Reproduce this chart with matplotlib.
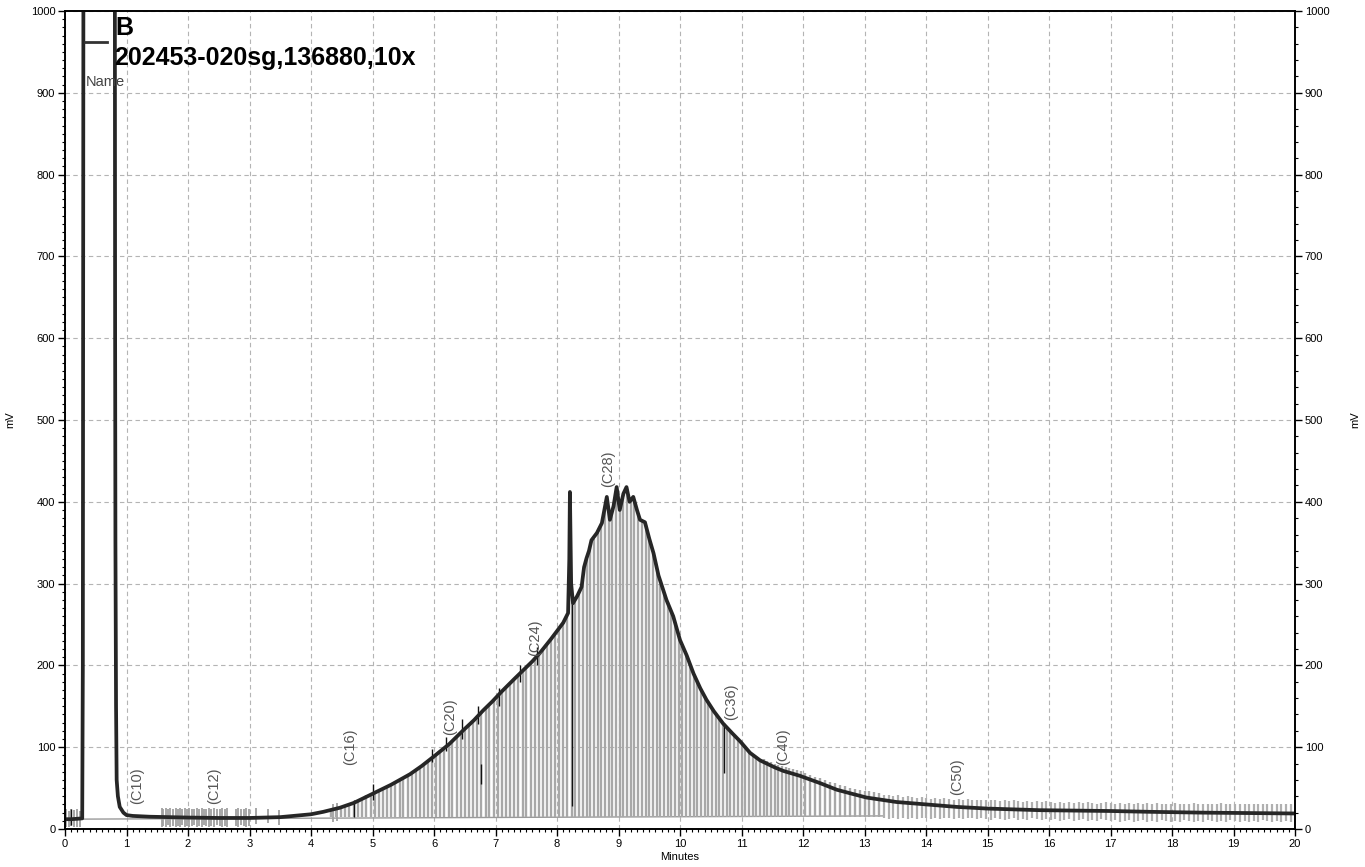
import numpy as np
import matplotlib
matplotlib.use('Agg')
import matplotlib.pyplot as plt
from matplotlib.ticker import MultipleLocator

plt.rcParams['font.family'] = ['Liberation Sans', 'DejaVu Sans']

# ========= DATA =========

# detector trace, minutes / mV
trace_t = [0.00, 0.10, 0.20, 0.28, 0.29, 0.30, 0.81, 0.815, 0.82, 0.83, 0.84, 0.86, 0.89,
           0.95, 1.00, 1.10, 1.38, 2.00, 2.50, 3.00, 3.50, 4.00, 4.20, 4.47, 4.70, 5.00,
           5.30, 5.61, 5.80, 6.02, 6.25, 6.48, 6.65, 6.80, 6.95, 7.10, 7.30, 7.45, 7.60,
           7.72, 7.90, 8.10, 8.18, 8.20, 8.21, 8.23, 8.26, 8.33, 8.40, 8.44, 8.48, 8.52,
           8.56, 8.65, 8.73, 8.81, 8.86, 8.92, 8.97, 9.02, 9.08, 9.13, 9.18, 9.24, 9.30,
           9.35, 9.43, 9.50, 9.57, 9.65, 9.78, 9.89, 10.00, 10.11, 10.22, 10.33, 10.43,
           10.55, 10.70, 10.85, 10.98, 11.14, 11.30, 11.41, 11.55, 11.68, 11.95, 12.28,
           12.55, 12.80, 13.03, 13.52, 14.01, 14.50, 14.99, 15.85, 17.00, 17.64, 18.50,
           19.97, 20.00]
trace_mv = [12, 12, 12.5, 13, 200, 1100, 1100, 600, 350, 150, 60, 40, 27,
            20, 17, 16, 15, 14, 13.5, 13.5, 14.5, 18, 21, 26, 32, 43,
            54, 67, 77, 90, 104, 121, 133, 145, 156, 168, 183, 194, 205,
            215, 232, 252, 264, 330, 412, 300, 276, 285, 296, 320, 331, 340,
            353, 362, 374, 406, 378, 395, 418, 390, 410, 418, 400, 406, 390,
            378, 375, 355, 337, 310, 280, 260, 231, 212, 190, 172, 158,
            144, 129, 117, 107, 93, 84, 80, 75, 71, 65, 56,
            48, 43, 38.5, 33, 30, 27, 25, 23, 22, 21, 20,
            19, 19]

# integration baseline
base_t = [0.0, 13.3]
base_mv = [12, 16]

# peak slices under the hump: time, top (mV)
hump_t = [4.32, 4.40, 4.48, 4.55, 4.62, 4.70, 4.76, 4.83, 4.90, 4.97, 5.04, 5.10, 5.17, 5.24,
          5.30, 5.37, 5.44, 5.50, 5.57, 5.64, 5.70, 5.77, 5.84, 5.90, 5.97, 6.04, 6.10, 6.17,
          6.24, 6.30, 6.37, 6.44, 6.50, 6.57, 6.64, 6.70, 6.77, 6.84, 6.90, 6.97, 7.04, 7.10,
          7.17, 7.24, 7.30, 7.37, 7.44, 7.50, 7.57, 7.64, 7.70, 7.77, 7.84, 7.90, 7.97, 8.04,
          8.10, 8.16, 8.24, 8.30, 8.36, 8.42, 8.48, 8.54, 8.60, 8.66, 8.72, 8.78, 8.84, 8.90,
          8.96, 9.02, 9.08, 9.14, 9.20, 9.26, 9.32, 9.38, 9.44, 9.50, 9.56, 9.62, 9.68, 9.74,
          9.80, 9.86, 9.92, 9.98, 10.04, 10.10, 10.16, 10.22, 10.28, 10.34, 10.40, 10.46,
          10.52, 10.58, 10.64, 10.70, 10.76, 10.82, 10.88, 10.94, 11.00, 11.06, 11.12, 11.18,
          11.24, 11.30, 11.36, 11.42, 11.48, 11.54, 11.60, 11.66, 11.72, 11.78, 11.84, 11.90,
          11.96, 12.04, 12.12, 12.20, 12.28, 12.36, 12.44, 12.52, 12.60, 12.68, 12.76, 12.84,
          12.92, 13.00, 13.08, 13.16, 13.24]
hump_top = [22, 24, 27, 28, 30, 33, 36, 38, 41, 43, 45, 48, 50, 52,
            55, 58, 61, 63, 66, 69, 72, 76, 80, 83, 87, 91, 95, 99,
            104, 108, 113, 118, 122, 127, 132, 137, 143, 148, 152, 158, 163, 168,
            173, 178, 183, 188, 193, 198, 203, 208, 213, 220, 226, 232, 238, 246,
            252, 260, 280, 280, 290, 305, 330, 345, 355, 362, 372, 390, 385, 392,
            410, 392, 405, 412, 402, 398, 385, 377, 372, 355, 338, 318, 300, 288,
            277, 266, 253, 235, 224, 213, 202, 190, 180, 171, 162, 155,
            148, 141, 135, 129, 124, 119, 114, 110, 106, 100, 95, 91,
            88, 86, 85, 83, 82, 80, 78, 77, 76, 75, 73, 72,
            71, 68, 66, 64, 62, 60, 58, 56, 54, 52, 50, 49,
            48, 47, 46, 45, 44]

# noise slices on the flat parts: time, bottom, top (mV)
early_t = [0.02, 0.06, 0.10, 0.14, 0.19, 0.24, 1.57, 1.60, 1.64, 1.68, 1.71, 1.75, 1.80,
           1.84, 1.87, 1.91, 1.95, 1.98, 2.02, 2.06, 2.10, 2.14, 2.18, 2.22, 2.26, 2.30,
           2.34, 2.38, 2.43, 2.47, 2.52, 2.56, 2.60, 2.64, 2.78, 2.82, 2.86, 2.91, 2.95,
           2.99, 3.10, 3.30, 3.48, 4.35, 4.42]
early_bot = [2, 2, 4, 2, 3, 2, 3, 4, 3, 5, 3, 4, 3,
             4, 3, 5, 3, 4, 3, 4, 5, 3, 4, 3, 5, 4,
             3, 4, 3, 5, 4, 3, 4, 3, 4, 3, 5, 4, 3,
             4, 6, 7, 5, 9, 10]
early_top = [24, 22, 25, 23, 24, 22, 26, 25, 26, 24, 26, 25, 26,
             25, 26, 24, 26, 25, 26, 25, 24, 26, 25, 26, 24, 25,
             26, 25, 26, 24, 25, 26, 25, 26, 25, 26, 24, 25, 26,
             25, 26, 24, 23, 30, 32]

late_t = [13.32, 13.40, 13.47, 13.55, 13.62, 13.70, 13.78, 13.85, 13.93, 14.00, 14.08, 14.15,
          14.23, 14.30, 14.38, 14.45, 14.53, 14.60, 14.68, 14.75, 14.83, 14.90, 14.98, 15.05,
          15.13, 15.20, 15.28, 15.35, 15.43, 15.50, 15.58, 15.65, 15.73, 15.80, 15.88, 15.95,
          16.03, 16.10, 16.18, 16.25, 16.33, 16.40, 16.48, 16.55, 16.63, 16.70, 16.78, 16.85,
          16.93, 17.00, 17.08, 17.15, 17.23, 17.30, 17.38, 17.45, 17.53, 17.60, 17.68, 17.75,
          17.83, 17.90, 17.98, 18.05, 18.13, 18.20, 18.28, 18.35, 18.43, 18.50, 18.58, 18.65,
          18.73, 18.80, 18.88, 18.95, 19.03, 19.10, 19.18, 19.25, 19.33, 19.40, 19.48, 19.55,
          19.63, 19.70, 19.78, 19.85, 19.93]
late_bot = [14, 12, 13, 12, 14, 12, 13, 12, 14, 13, 12, 13,
            12, 14, 13, 12, 13, 12, 14, 13, 12, 13, 12, 11,
            13, 12, 11, 12, 13, 11, 12, 11, 13, 12, 11, 12,
            11, 12, 10, 11, 12, 10, 11, 12, 10, 11, 10, 12,
            11, 10, 11, 9, 10, 11, 9, 10, 11, 9, 10, 9,
            11, 10, 9, 10, 9, 11, 10, 9, 10, 9, 11, 10,
            9, 10, 9, 11, 10, 9, 10, 9, 10, 9, 11, 10,
            9, 10, 9, 10, 9]
late_top = [42, 41, 40, 41, 39, 40, 39, 38, 39, 38, 37, 38,
            37, 38, 37, 36, 37, 36, 37, 36, 35, 36, 35, 36,
            35, 34, 35, 34, 35, 34, 33, 34, 33, 34, 33, 34,
            33, 32, 33, 32, 33, 32, 33, 32, 33, 32, 31, 32,
            33, 32, 31, 32, 31, 32, 31, 32, 31, 32, 31, 32,
            31, 30, 31, 32, 31, 30, 31, 32, 31, 30, 31, 30,
            31, 32, 31, 30, 31, 30, 31, 30, 31, 30, 31, 30,
            31, 30, 31, 30, 31]

# darker slice markers: time, bottom, top (mV)
dark_t = [0.10, 4.70, 5.00, 5.97, 6.20, 6.46, 6.72, 6.77, 7.05, 7.40, 7.67, 8.25, 10.72]
dark_bot = [5, 15, 35, 82, 95, 110, 128, 55, 150, 180, 200, 28, 68]
dark_top = [25, 36, 55, 98, 112, 135, 150, 80, 172, 200, 222, 275, 129]

# carbon number markers
carbon_labels = ['(C10)', '(C12)', '(C16)', '(C20)', '(C24)', '(C28)', '(C36)', '(C40)', '(C50)']
carbon_t = [1.17, 2.42, 4.63, 6.26, 7.64, 8.83, 10.83, 11.67, 14.50]
carbon_mv = [30, 30, 78, 115, 212, 418, 133, 78, 41]

# ========= PLOT =========

W, H = 1365, 867
fig = plt.figure(figsize=(W / 100, H / 100), dpi=100)
ax = fig.add_axes([65 / W, 38 / H, 1230 / W, 818 / H])

ax.set_xlim(0, 20)
ax.set_ylim(0, 1000)

ax.grid(True, which='major', linestyle=(0, (4, 3)), color='#b4b4b4', linewidth=0.8)
ax.set_axisbelow(True)

ax.plot(base_t, base_mv, color='#9a9a9a', linewidth=1.0, zorder=2)
ax.vlines(early_t, early_bot, early_top, colors='#a0a0a0', linewidth=1.3, zorder=2)
ax.vlines(hump_t, 15, hump_top, colors='#a8a8a8', linewidth=1.7, zorder=2)
ax.vlines(late_t, late_bot, late_top, colors='#b0b0b0', linewidth=1.6, zorder=2)
ax.vlines(dark_t, dark_bot, dark_top, colors='#111111', linewidth=1.0, zorder=3)

ax.plot(trace_t, trace_mv, color='#262626', linewidth=2.7, zorder=4)

for lab, t, mv in zip(carbon_labels, carbon_t, carbon_mv):
    ax.text(t, mv, lab, rotation=90, ha='center', va='bottom', fontsize=10.5,
            color='#555555', zorder=5)

# axes styling
ax.xaxis.set_major_locator(MultipleLocator(1))
ax.xaxis.set_minor_locator(MultipleLocator(0.1))
ax.yaxis.set_major_locator(MultipleLocator(100))
ax.yaxis.set_minor_locator(MultipleLocator(10))
ax.tick_params(which='major', direction='out', length=5, width=1, labelsize=8, pad=2)
ax.tick_params(which='minor', direction='out', length=2.5, width=0.8)
for s in ax.spines.values():
    s.set_linewidth(1.2)
ax.set_xlabel('Minutes', fontsize=8, labelpad=2)
ax.set_ylabel('mV', fontsize=8)
ax.yaxis.set_label_coords(-50 / 1230, 0.5)

ax2 = ax.twinx()
ax2.set_ylim(0, 1000)
ax2.yaxis.set_major_locator(MultipleLocator(100))
ax2.yaxis.set_minor_locator(MultipleLocator(20))
ax2.tick_params(which='major', direction='out', length=5, width=1, labelsize=8, pad=2)
ax2.tick_params(which='minor', direction='out', length=2.5, width=0.8)
ax2.set_ylabel('mV', fontsize=8)
ax2.yaxis.set_label_coords(1 + 55 / 1230, 0.5)
for s in ax2.spines.values():
    s.set_linewidth(1.2)

# legend block in the top-left corner
fig.add_artist(plt.Line2D([85 / W, 107 / W], [1 - 42 / H, 1 - 42 / H],
                          color='#333333', linewidth=2))
fig.text(115 / W, 1 - 28 / H, 'B', fontsize=18, fontweight='bold', va='center', ha='left')
fig.text(114 / W, 1 - 58 / H, '202453-020sg,136880,10x', fontsize=18, fontweight='bold',
         va='center', ha='left')
fig.text(86 / W, 1 - 82 / H, 'Name', fontsize=10.5, color='#444444', va='center', ha='left')

fig.savefig('out.png', dpi=100)
